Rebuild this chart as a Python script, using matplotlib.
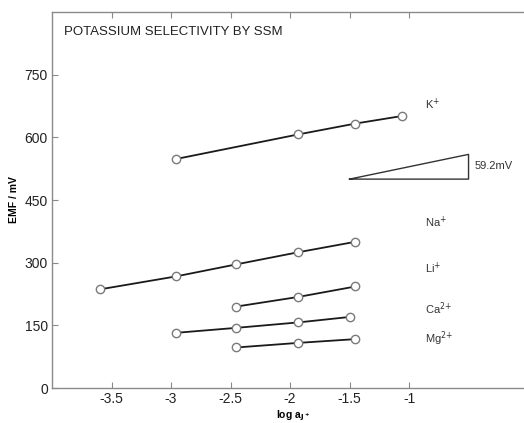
"""Potassium selectivity by the separate solution method (SSM)."""

import matplotlib

matplotlib.use("Agg")
import matplotlib.pyplot as plt

plt.rcParams.update(
    {
        "font.family": ["Liberation Sans", "DejaVu Sans"],
        "axes.edgecolor": "#8a8a8a",
        "axes.linewidth": 1.0,
        "xtick.color": "#8a8a8a",
        "ytick.color": "#8a8a8a",
        "xtick.labelcolor": "#222222",
        "ytick.labelcolor": "#222222",
    }
)

# log a_J+ / EMF (mV)
K_X = [-2.96, -1.93, -1.45, -1.06]
K_Y = [548, 607, 633, 651]
NA_X = [-3.60, -2.96, -2.45, -1.93, -1.45]
NA_Y = [236, 267, 296, 325, 350]
LI_X = [-2.45, -1.93, -1.45]
LI_Y = [195, 218, 243]
CA_X = [-2.96, -2.45, -1.93, -1.50]
CA_Y = [132, 144, 157, 170]
MG_X = [-2.45, -1.93, -1.45]
MG_Y = [97, 108, 117]

SERIES = [(K_X, K_Y), (NA_X, NA_Y), (LI_X, LI_Y), (CA_X, CA_Y), (MG_X, MG_Y)]

ION_LABELS = ["K$^{+}$", "Na$^{+}$", "Li$^{+}$", "Ca$^{2{+}}$", "Mg$^{2{+}}$"]
ION_LABEL_Y = [679, 397, 287, 189, 117]

# Nernstian slope triangle: 1 decade -> 59.2 mV
SLOPE_X = [-1.5, -0.5, -0.5, -1.5]
SLOPE_Y = [500, 500, 559.2, 500]

fig = plt.figure(figsize=(5.24, 4.23), dpi=100)
# the frame runs past the right edge of the picture, as in the source figure
ax = fig.add_axes([52 / 524, 35 / 423, 482 / 524, 376 / 423])

for xs, ys in SERIES:
    ax.plot(
        xs,
        ys,
        color="#1a1a1a",
        linewidth=1.3,
        marker="o",
        markersize=6.0,
        markerfacecolor="white",
        markeredgecolor="#7a7a7a",
        markeredgewidth=1.0,
        zorder=3,
    )

for lab, y in zip(ION_LABELS, ION_LABEL_Y):
    ax.text(-0.87, y, lab, fontsize=8, color="#333333", ha="left", va="center")

ax.plot(SLOPE_X, SLOPE_Y, color="#333333", linewidth=1.0)
ax.text(-0.45, 532, "59.2mV", fontsize=8, color="#333333", ha="left", va="center")

ax.text(-3.9, 852, "POTASSIUM SELECTIVITY BY SSM", fontsize=9.5, color="#222222",
        ha="left", va="center")

ax.set_xlim(-4, 0.05)
ax.set_ylim(0, 900)
ax.set_xticks([-3.5, -3, -2.5, -2, -1.5, -1])
ax.set_xticklabels(["-3.5", "-3", "-2.5", "-2", "-1.5", "-1"])
ax.set_yticks([0, 150, 300, 450, 600, 750])
ax.tick_params(direction="in", length=4, top=True, right=True, labelsize=10, pad=3)

ax.set_xlabel("log a$_{\\mathbf{J^+}}$", fontsize=7.5, fontweight="bold", labelpad=2)
ax.set_ylabel("EMF / mV", fontsize=7.5, fontweight="bold", labelpad=4)

fig.savefig("out.png", dpi=100)
